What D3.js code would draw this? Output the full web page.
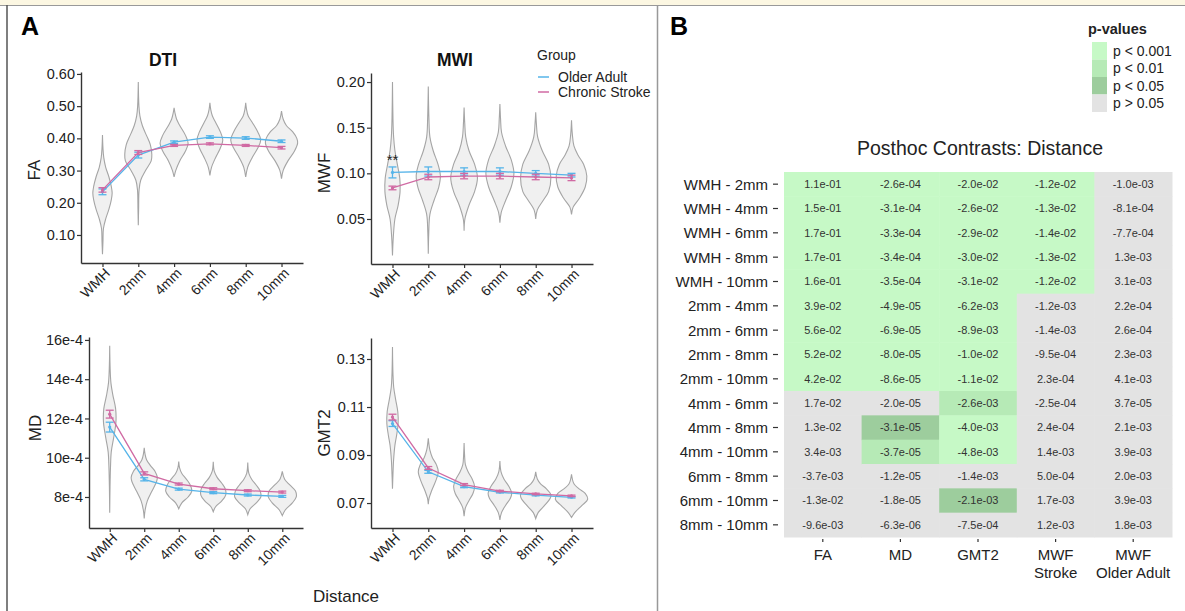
<!DOCTYPE html>
<html><head><meta charset="utf-8">
<script src="https://cdn.jsdelivr.net/npm/d3@7"></script>
<style>body{margin:0;background:#fff}svg{display:block;font-family:"Liberation Sans",Arial,Helvetica,sans-serif}</style>
</head><body><svg id="c" width="1185" height="611"></svg>
<script>
// ---------------- DATA ----------------
const distances = ["WMH","2mm","4mm","6mm","8mm","10mm"];
const groups = ["Older Adult","Chronic Stroke"];

// FA
const faOlder = [0.234,0.348,0.388,0.404,0.401,0.391];
const faOlderErr = [0.009,0.009,0.004,0.004,0.004,0.004];
const faStroke = [0.240,0.356,0.378,0.383,0.378,0.371];
const faStrokeErr = [0.007,0.006,0.003,0.003,0.003,0.004];
const faTicks = [0.1,0.2,0.3,0.4,0.5,0.6];
// violin profiles: [value, relative half-width]
const faViolins = [
 [[0.04,0],[0.08,0.03],[0.12,0.06],[0.15,0.2],[0.18,0.4],[0.21,0.55],[0.23,0.6],[0.25,0.55],[0.28,0.4],[0.31,0.2],[0.34,0.08],[0.37,0.03],[0.41,0]],
 [[0.13,0],[0.18,0.02],[0.24,0.05],[0.27,0.15],[0.30,0.45],[0.33,0.8],[0.35,0.84],[0.38,0.75],[0.41,0.5],[0.44,0.25],[0.47,0.1],[0.50,0.04],[0.575,0]],
 [[0.28,0],[0.30,0.1],[0.33,0.35],[0.36,0.7],[0.385,0.87],[0.41,0.7],[0.44,0.35],[0.46,0.15],[0.48,0.05],[0.495,0]],
 [[0.285,0],[0.31,0.1],[0.34,0.35],[0.37,0.65],[0.395,0.8],[0.42,0.65],[0.45,0.35],[0.47,0.15],[0.49,0.05],[0.51,0]],
 [[0.28,0],[0.31,0.12],[0.34,0.4],[0.37,0.75],[0.395,0.93],[0.42,0.75],[0.45,0.4],[0.47,0.15],[0.49,0.05],[0.51,0]],
 [[0.275,0],[0.30,0.1],[0.33,0.4],[0.36,0.8],[0.385,1.0],[0.40,0.95],[0.42,0.7],[0.44,0.3],[0.46,0.1],[0.485,0]]
];

// MWF
const mwfOlder = [0.101,0.102,0.102,0.102,0.100,0.098];
const mwfOlderErr = [0.006,0.005,0.004,0.004,0.003,0.002];
const mwfStroke = [0.084,0.096,0.097,0.097,0.096,0.095];
const mwfStrokeErr = [0.002,0.003,0.003,0.003,0.003,0.003];
const mwfTicks = [0.05,0.10,0.15,0.20];
const mwfViolins = [
 [[0.01,0],[0.03,0.05],[0.05,0.15],[0.065,0.35],[0.08,0.47],[0.095,0.45],[0.11,0.3],[0.125,0.15],[0.14,0.07],[0.16,0.03],[0.20,0]],
 [[0.012,0],[0.035,0.03],[0.055,0.1],[0.07,0.35],[0.085,0.65],[0.098,0.75],[0.11,0.6],[0.125,0.3],[0.14,0.1],[0.16,0.04],[0.195,0]],
 [[0.037,0],[0.05,0.05],[0.065,0.3],[0.08,0.65],[0.095,0.83],[0.11,0.65],[0.125,0.3],[0.14,0.1],[0.155,0.04],[0.172,0]],
 [[0.046,0],[0.057,0.08],[0.07,0.35],[0.085,0.7],[0.10,0.87],[0.115,0.7],[0.13,0.35],[0.145,0.1],[0.16,0.04],[0.176,0]],
 [[0.05,0],[0.06,0.1],[0.07,0.45],[0.08,0.8],[0.095,0.94],[0.11,0.8],[0.125,0.4],[0.14,0.12],[0.155,0.04],[0.167,0]],
 [[0.055,0],[0.063,0.1],[0.073,0.5],[0.085,0.85],[0.097,0.95],[0.11,0.75],[0.12,0.4],[0.13,0.15],[0.143,0.05],[0.158,0]]
];

// MD (in units of 1e-4)
const mdOlder = [11.56,8.90,8.40,8.22,8.10,8.03];
const mdOlderErr = [0.25,0.08,0.05,0.05,0.05,0.05];
const mdStroke = [12.22,9.20,8.66,8.42,8.32,8.25];
const mdStrokeErr = [0.2,0.08,0.05,0.05,0.05,0.05];
const mdTicks = [8,10,12,14,16];
const mdViolins = [
 [[7.2,0],[8.5,0.02],[9.5,0.05],[10.3,0.1],[11.0,0.25],[11.8,0.4],[12.5,0.38],[13.2,0.2],[13.8,0.08],[14.5,0.03],[15.7,0]],
 [[6.9,0],[7.3,0.05],[7.8,0.2],[8.3,0.5],[8.8,0.8],[9.0,0.84],[9.3,0.7],[9.6,0.4],[9.9,0.15],[10.2,0.05],[10.5,0]],
 [[7.4,0],[7.7,0.2],[8.0,0.6],[8.3,0.84],[8.6,0.75],[8.9,0.5],[9.2,0.2],[9.5,0.05],[9.8,0]],
 [[7.25,0],[7.5,0.15],[7.8,0.55],[8.1,0.8],[8.4,0.78],[8.7,0.55],[9.0,0.25],[9.3,0.07],[9.8,0]],
 [[7.1,0],[7.4,0.15],[7.7,0.55],[8.0,0.84],[8.3,0.8],[8.6,0.55],[8.9,0.25],[9.2,0.07],[9.75,0]],
 [[7.05,0],[7.35,0.2],[7.7,0.65],[8.0,0.9],[8.3,0.85],[8.6,0.5],[8.9,0.15],[9.3,0]]
];

// GMT2
const gmtOlder = [0.1031,0.0830,0.0768,0.0745,0.0733,0.0724];
const gmtOlderErr = [0.0012,0.0006,0.0004,0.0003,0.0003,0.0003];
const gmtStroke = [0.1058,0.0846,0.0777,0.0750,0.0738,0.0730];
const gmtStrokeErr = [0.0012,0.0006,0.0004,0.0003,0.0003,0.0003];
const gmtTicks = [0.07,0.09,0.11,0.13];
const gmtViolins = [
 [[0.076,0],[0.082,0.03],[0.088,0.07],[0.094,0.15],[0.098,0.25],[0.103,0.35],[0.108,0.33],[0.113,0.2],[0.118,0.08],[0.124,0.03],[0.135,0]],
 [[0.0695,0],[0.072,0.05],[0.075,0.2],[0.079,0.45],[0.083,0.62],[0.086,0.5],[0.089,0.25],[0.092,0.1],[0.097,0]],
 [[0.0645,0],[0.068,0.08],[0.071,0.3],[0.074,0.55],[0.077,0.65],[0.080,0.5],[0.083,0.25],[0.086,0.08],[0.09,0.03],[0.095,0]],
 [[0.063,0],[0.066,0.1],[0.069,0.35],[0.072,0.65],[0.074,0.73],[0.077,0.55],[0.080,0.25],[0.083,0.07],[0.0875,0]],
 [[0.0635,0],[0.066,0.15],[0.069,0.55],[0.072,0.9],[0.0735,0.94],[0.076,0.65],[0.078,0.3],[0.080,0.1],[0.083,0]],
 [[0.064,0],[0.066,0.2],[0.069,0.65],[0.0715,1.0],[0.074,0.85],[0.076,0.45],[0.078,0.15],[0.082,0]]
];

// Heatmap (panel B)
const contrasts = ["WMH - 2mm","WMH - 4mm","WMH - 6mm","WMH - 8mm","WMH - 10mm","2mm - 4mm","2mm - 6mm","2mm - 8mm","2mm - 10mm","4mm - 6mm","4mm - 8mm","4mm - 10mm","6mm - 8mm","6mm - 10mm","8mm - 10mm"];
const measures = ["FA","MD","GMT2","MWF Stroke","MWF Older Adult"];
const measureLabels = [["FA"],["MD"],["GMT2"],["MWF","Stroke"],["MWF","Older Adult"]];
const estFA = [1.1e-01,1.5e-01,1.7e-01,1.7e-01,1.6e-01,3.9e-02,5.6e-02,5.2e-02,4.2e-02,1.7e-02,1.3e-02,3.4e-03,-3.7e-03,-1.3e-02,-9.6e-03];
const estMD = [-2.6e-04,-3.1e-04,-3.3e-04,-3.4e-04,-3.5e-04,-4.9e-05,-6.9e-05,-8.0e-05,-8.6e-05,-2.0e-05,-3.1e-05,-3.7e-05,-1.2e-05,-1.8e-05,-6.3e-06];
const estGMT2 = [-2.0e-02,-2.6e-02,-2.9e-02,-3.0e-02,-3.1e-02,-6.2e-03,-8.9e-03,-1.0e-02,-1.1e-02,-2.6e-03,-4.0e-03,-4.8e-03,-1.4e-03,-2.1e-03,-7.5e-04];
const estMWFStroke = [-1.2e-02,-1.3e-02,-1.4e-02,-1.3e-02,-1.2e-02,-1.2e-03,-1.4e-03,-9.5e-04,2.3e-04,-2.5e-04,2.4e-04,1.4e-03,5.0e-04,1.7e-03,1.2e-03];
const estMWFOlder = [-1.0e-03,-8.1e-04,-7.7e-04,1.3e-03,3.1e-03,2.2e-04,2.6e-04,2.3e-03,4.1e-03,3.7e-05,2.1e-03,3.9e-03,2.0e-03,3.9e-03,1.8e-03];
// significance class: 0 p<0.001, 1 p<0.01, 2 p<0.05, 3 p>0.05
const sigFA = [0,0,0,0,0,0,0,0,0,3,3,3,3,3,3];
const sigMD = [0,0,0,0,0,0,0,0,0,3,2,1,3,3,3];
const sigGMT2 = [0,0,0,0,0,0,0,0,0,1,0,0,3,2,3];
const sigMWFStroke = [0,0,0,0,0,3,3,3,3,3,3,3,3,3,3];
const sigMWFOlder = [3,3,3,3,3,3,3,3,3,3,3,3,3,3,3];
const sigLabels = ["p < 0.001","p < 0.01","p < 0.05","p > 0.05"];

// ---------------- STYLE ----------------
const colOlder = "#56B4E9", colStroke = "#D06AA3";
const sigColors = ["#c6f9c6","#b6eab6","#9dcd9d","#e3e3e3"];
const svg = d3.select("#c");

// frame
svg.append("rect").attr("x",0).attr("y",0).attr("width",1185).attr("height",5).attr("fill","#fcf7e2");
svg.append("line").attr("x1",0).attr("x2",1185).attr("y1",5.5).attr("y2",5.5).attr("stroke","#999").attr("stroke-width",1);
svg.append("line").attr("x1",7).attr("x2",7).attr("y1",5).attr("y2",611).attr("stroke","#555").attr("stroke-width",1.5);
svg.append("line").attr("x1",657.5).attr("x2",657.5).attr("y1",5).attr("y2",611).attr("stroke","#999").attr("stroke-width",1.5);

svg.append("text").attr("x",21).attr("y",35).attr("font-size",25).attr("font-weight","bold").text("A");
svg.append("text").attr("x",670).attr("y",35).attr("font-size",25).attr("font-weight","bold").text("B");

// ---------------- PANEL A ----------------
function panel(cfg){
  const g = svg.append("g");
  const x = d3.scalePoint().domain(distances).range([cfg.x0,cfg.x1]).padding(0.6);
  const y = d3.scaleLinear().domain(cfg.domain).range([cfg.y1,cfg.y0]);
  const hw = x.step()*0.45;
  cfg.violins.forEach((prof,i)=>{
    const cx = x(distances[i]);
    const area = d3.area().curve(d3.curveCatmullRom.alpha(0.5))
      .y(d=>y(d[0])).x0(d=>cx-hw*d[1]).x1(d=>cx+hw*d[1]);
    g.append("path").attr("d",area(prof)).attr("fill","#f0f0f0").attr("stroke","#a5a5a5").attr("stroke-width",1.1);
  });
  const series = [[cfg.older,cfg.olderErr,colOlder],[cfg.stroke,cfg.strokeErr,colStroke]];
  series.forEach(([m,e,c])=>{
    const line = d3.line().x((d,i)=>x(distances[i])).y(d=>y(d));
    g.append("path").attr("d",line(m)).attr("fill","none").attr("stroke",c).attr("stroke-width",1.3);
    m.forEach((v,i)=>{
      const cx = x(distances[i]);
      const eg = g.append("g").attr("stroke",c).attr("stroke-width",1.3);
      eg.append("line").attr("x1",cx).attr("x2",cx).attr("y1",y(v-e[i])).attr("y2",y(v+e[i]));
      eg.append("line").attr("x1",cx-4).attr("x2",cx+4).attr("y1",y(v-e[i])).attr("y2",y(v-e[i]));
      eg.append("line").attr("x1",cx-4).attr("x2",cx+4).attr("y1",y(v+e[i])).attr("y2",y(v+e[i]));
      g.append("circle").attr("cx",cx).attr("cy",y(v)).attr("r",1.6).attr("fill",c);
    });
  });
  const ax = g.append("g").attr("transform",`translate(0,${cfg.y1})`)
    .call(d3.axisBottom(x).tickSize(4).tickSizeOuter(0));
  const ay = g.append("g").attr("transform",`translate(${cfg.x0},0)`)
    .call(d3.axisLeft(y).tickValues(cfg.ticks).tickFormat(cfg.fmt).tickSize(4).tickSizeOuter(0));
  [ax,ay].forEach(a=>{
    a.attr("font-family",null).attr("font-size",14.5).attr("color","#333");
    a.select(".domain").attr("stroke-width",1.4);
    a.selectAll(".tick line").attr("stroke-width",1.2);
    a.selectAll(".tick text").attr("fill","#222");
  });
  ay.selectAll(".tick text").attr("x",-6);
  ax.selectAll(".tick text").attr("x",0).attr("y",0).attr("dy",0).attr("font-size",14)
    .attr("text-anchor","end").attr("transform","translate(8,11) rotate(-45)");
  svg.append("text").attr("transform",`translate(${cfg.labX},${cfg.labY}) rotate(-90)`)
    .attr("text-anchor","middle").attr("font-size",17).attr("fill","#222").text(cfg.ylab);
  if(cfg.title) svg.append("text").attr("x",cfg.titleX).attr("y",66).attr("text-anchor","middle")
    .attr("font-size",17.5).attr("font-weight","bold").attr("fill","#111").text(cfg.title);
  return {x,y};
}
const f2 = d3.format(".2f");
panel({x0:81,x1:303,y0:72,y1:263,domain:[0.013,0.606],violins:faViolins,older:faOlder,olderErr:faOlderErr,stroke:faStroke,strokeErr:faStrokeErr,ticks:faTicks,fmt:f2,ylab:"FA",labX:40,labY:170,title:"DTI",titleX:163});
const mw = panel({x0:371,x1:593,y0:73,y1:264,domain:[0.0007,0.2099],violins:mwfViolins,older:mwfOlder,olderErr:mwfOlderErr,stroke:mwfStroke,strokeErr:mwfStrokeErr,ticks:mwfTicks,fmt:f2,ylab:"MWF",labX:330,labY:173,title:"MWI",titleX:455});
panel({x0:89,x1:303,y0:337,y1:528,domain:[6.42,16.15],violins:mdViolins,older:mdOlder,olderErr:mdOlderErr,stroke:mdStroke,strokeErr:mdStrokeErr,ticks:mdTicks,fmt:d=>d+"e-4",ylab:"MD",labX:41,labY:428});
panel({x0:371,x1:593,y0:338,y1:528,domain:[0.0596,0.13875],violins:gmtViolins,older:gmtOlder,olderErr:gmtOlderErr,stroke:gmtStroke,strokeErr:gmtStrokeErr,ticks:gmtTicks,fmt:f2,ylab:"GMT2",labX:330,labY:433});

// significance stars on MWF WMH
svg.append("text").attr("x",mw.x("WMH")).attr("y",mw.y(mwfOlder[0]+mwfOlderErr[0])-2).attr("text-anchor","middle")
  .attr("font-size",15).attr("fill","#222").text("**");

// group legend
svg.append("text").attr("x",537).attr("y",60).attr("font-size",14).attr("fill","#222").text("Group");
groups.forEach((gname,i)=>{
  const yy = 77 + i*15;
  svg.append("line").attr("x1",538).attr("x2",549).attr("y1",yy).attr("y2",yy).attr("stroke",i?colStroke:colOlder).attr("stroke-width",1.5);
  svg.append("text").attr("x",558).attr("y",yy+5).attr("font-size",14).attr("fill","#222").text(gname);
});
svg.append("text").attr("x",346).attr("y",602).attr("text-anchor","middle").attr("font-size",17).attr("fill","#222").text("Distance");

// ---------------- PANEL B ----------------
const estimates = [estFA,estMD,estGMT2,estMWFStroke,estMWFOlder];
const sigs = [sigFA,sigMD,sigGMT2,sigMWFStroke,sigMWFOlder];
const hx = d3.scaleBand().domain(measures).range([784,1172]);
const hy = d3.scaleBand().domain(contrasts).range([172,537]);
const fmtE = v => v.toExponential(1).replace(/e([+-])(\d+)$/, (m,s,d)=>"e"+s+(d.length<2?"0"+d:d));
const cells = [];
measures.forEach((m,j)=>contrasts.forEach((c,i)=>cells.push({m,c,v:estimates[j][i],s:sigs[j][i]})));
const hg = svg.append("g");
hg.selectAll("rect").data(cells).join("rect")
  .attr("x",d=>hx(d.m)).attr("y",d=>hy(d.c)).attr("width",hx.bandwidth()+0.5).attr("height",hy.bandwidth()+0.5)
  .attr("fill",d=>sigColors[d.s]);
hg.selectAll("text").data(cells).join("text")
  .attr("x",d=>hx(d.m)+hx.bandwidth()/2).attr("y",d=>hy(d.c)+hy.bandwidth()/2).attr("dy","0.36em")
  .attr("text-anchor","middle").attr("font-size",11).attr("fill","#333").text(d=>fmtE(d.v));
// row axis
contrasts.forEach(c=>{
  const yy = hy(c)+hy.bandwidth()/2;
  svg.append("line").attr("x1",773).attr("x2",778).attr("y1",yy).attr("y2",yy).attr("stroke","#333").attr("stroke-width",1.2);
  svg.append("text").attr("x",768).attr("y",yy).attr("dy","0.36em").attr("text-anchor","end").attr("font-size",15).attr("fill","#222").text(c);
});
measures.forEach((m,j)=>{
  const xx = hx(m)+hx.bandwidth()/2;
  svg.append("line").attr("x1",xx).attr("x2",xx).attr("y1",539).attr("y2",542).attr("stroke","#333").attr("stroke-width",1.2);
  measureLabels[j].forEach((t,k)=>svg.append("text").attr("x",xx).attr("y",560+k*18).attr("text-anchor","middle").attr("font-size",15).attr("fill","#222").text(t));
});
svg.append("text").attr("x",980).attr("y",155).attr("text-anchor","middle").attr("font-size",19.5).attr("fill","#222").text("Posthoc Contrasts: Distance");
// p legend
svg.append("text").attr("x",1088).attr("y",34).attr("font-size",14.5).attr("font-weight","bold").attr("fill","#222").text("p-values");
sigLabels.forEach((l,i)=>{
  svg.append("rect").attr("x",1092).attr("y",42+i*17.5).attr("width",15).attr("height",17.5).attr("fill",sigColors[i]);
  svg.append("text").attr("x",1113).attr("y",42+i*17.5+13.5).attr("font-size",14).attr("fill","#222").text(l);
});
</script></body></html>
